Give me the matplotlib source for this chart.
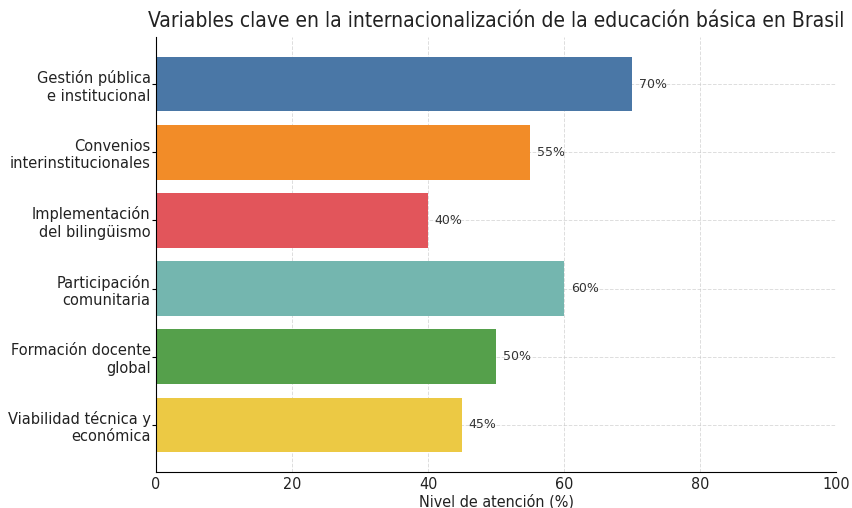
import matplotlib
matplotlib.use("Agg")
import matplotlib.pyplot as plt

categories = ["Gestión pública\ne institucional", "Convenios\ninterinstitucionales",
              "Implementación\ndel bilingüismo", "Participación\ncomunitaria",
              "Formación docente\nglobal", "Viabilidad técnica y\neconómica"]
values = [70, 55, 40, 60, 50, 45]
colors = ["#4A77A6", "#F28C28", "#E2555B", "#74B6AF", "#55A04B", "#ECC944"]

plt.rcParams['font.family'] = ['DejaVu Sans']
fig = plt.figure(figsize=(8.53, 5.08), dpi=100)
ax = fig.add_axes([0.183, 0.071, 0.797, 0.856])

ypos = list(range(len(categories)))
ax.barh(ypos, values, color=colors, height=0.8, zorder=2)
ax.invert_yaxis()
ax.set_yticks(ypos)
ax.set_yticklabels(categories, fontsize=10.5, color="#222222")
ax.tick_params(axis='y', length=3, pad=1)
ax.set_xlim(0, 100)
ax.set_xticks([0, 20, 40, 60, 80, 100])
ax.tick_params(axis='x', length=0, pad=4, colors="#222222")
for lab in ax.get_xticklabels():
    lab.set_fontsize(11.5)
    lab.set_fontstretch('condensed')
ax.set_xlabel("Nivel de atención (%)", fontsize=11.5, fontstretch='condensed', labelpad=1, color="#222222")
ax.set_title("Variables clave en la internacionalización de la educación básica en Brasil",
             fontsize=15, fontstretch='condensed', x=0.5, pad=7, color="#222222")
ax.grid(True, linestyle='--', color='#c8c8c8', linewidth=0.7, alpha=0.6, zorder=3)
for s in ['top', 'right']:
    ax.spines[s].set_visible(False)

for y, v in zip(ypos, values):
    ax.text(v + 1, y, f"{v}%", va='center', ha='left', fontsize=9, color="#333333", zorder=4)

fig.savefig("out.png", dpi=100)
